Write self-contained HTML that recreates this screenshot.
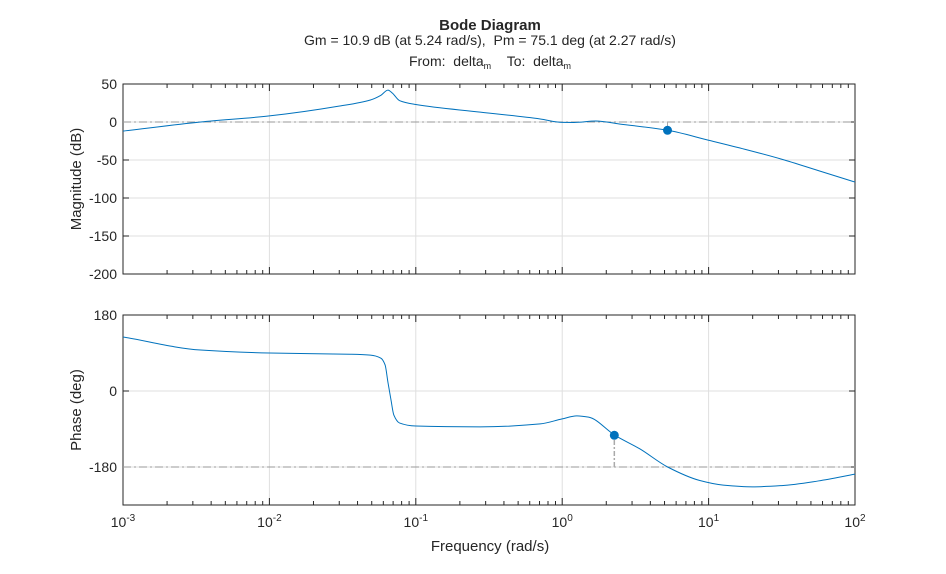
<!DOCTYPE html>
<html><head><meta charset="utf-8"><style>
body{margin:0;background:#fff;}
svg text{font-family:"Liberation Sans",sans-serif;fill:#262626;white-space:pre;}
</style></head><body>
<svg id="c" width="946" height="569" xmlns="http://www.w3.org/2000/svg">
<rect width="946" height="569" fill="#fff"/>
<text x="490" y="30" font-size="15" font-weight="bold" text-anchor="middle">Bode Diagram</text>
<text x="490" y="45" font-size="14" text-anchor="middle">Gm = 10.9 dB (at 5.24 rad/s),&#160;&#160;Pm = 75.1 deg (at 2.27 rad/s)</text>
<text x="490" y="66" font-size="14" text-anchor="middle">From:&#160;&#160;delta<tspan font-size="9" dy="3">m</tspan><tspan dy="-3">&#160;&#160;&#160;&#160;To:&#160;&#160;delta</tspan><tspan font-size="9" dy="3">m</tspan></text>
<g id="mag"></g>
<g id="ph"></g>
<text x="490" y="551" font-size="15" text-anchor="middle">Frequency (rad/s)</text>
<text transform="translate(81,179) rotate(-90)" font-size="15" text-anchor="middle">Magnitude (dB)</text>
<text transform="translate(81,410) rotate(-90)" font-size="15" text-anchor="middle">Phase (deg)</text>
</svg>
<script>
const decades=[-3,-2,-1,0,1,2];
const magTicks=[50,0,-50,-100,-150,-200];
const phTicks=[180,0,-180];
const magLogW=[-3,-2.47,-2,-1.52,-1.31,-1.24,-1.19,-1.16,-1.11,-1,-0.56,-0.15,0,0.08,0.23,0.39,0.72,1,1.25,1.5,1.75,2];
const magDb=[-12,0,8,21,29,35,42,38,28,23,13,4,-0.5,-0.6,1.3,-2.6,-10.9,-24,-36,-49,-64,-79];
const phLogW=[-3,-2.47,-2,-1.45,-1.31,-1.24,-1.21,-1.19,-1.17,-1.15,-1.11,-1,-0.56,-0.15,0,0.1,0.18,0.36,0.53,0.72,0.94,1.1,1.3,1.5,1.75,2];
const phDeg=[128,97,90,87,85,78,62,20,-20,-57,-76,-83,-85,-78,-66,-59,-62,-104.9,-137,-180,-212,-223,-227,-224,-213,-197];
const gm={w:Math.log10(5.24),db:-10.9};
const pm={w:Math.log10(2.27),deg:-104.9};
const NS='http://www.w3.org/2000/svg';
const X0=123,X1=855;
const xs=l=>X0+(l+3)/5*(X1-X0);
const ym=d=>122-d*0.76;
const yp=d=>391-d*76/180;
function el(p,t,a){const e=document.createElementNS(NS,t);for(const k in a)e.setAttribute(k,a[k]);p.appendChild(e);return e;}
function smooth(x,y){const n=x.length,dl=[],m=[];
 for(let i=0;i<n-1;i++)dl.push((y[i+1]-y[i])/(x[i+1]-x[i]));
 m[0]=dl[0];m[n-1]=dl[n-2];
 for(let i=1;i<n-1;i++){if(dl[i-1]*dl[i]<=0)m[i]=0;else{const h0=x[i]-x[i-1],h1=x[i+1]-x[i];const w1=2*h1+h0,w2=h1+2*h0;m[i]=(w1+w2)/(w1/dl[i-1]+w2/dl[i]);}}
 let d=`M${x[0]},${y[0]}`;
 for(let i=0;i<n-1;i++){const h=(x[i+1]-x[i])/3;d+=`C${x[i]+h},${y[i]+m[i]*h} ${x[i+1]-h},${y[i+1]-m[i+1]*h} ${x[i+1]},${y[i+1]}`;}
 return d;}
function axes(g,top,bot,ticks,yf,name){
 el(g,'rect',{x:X0,y:top,width:X1-X0,height:bot-top,fill:'#fff'});
 decades.forEach(d=>{const l=el(g,'line',{x1:xs(d),x2:xs(d),y1:top,y2:bot,stroke:'#dfdfdf'});});
 ticks.forEach(t=>{const y=yf(t);el(g,'line',{x1:X0,x2:X1,y1:y,y2:y,stroke:'#dfdfdf'});
  const tx=el(g,'text',{x:X0-6,y:y+5,'font-size':14,'text-anchor':'end'});tx.textContent=t;
  el(g,'line',{x1:X0,x2:X0+6,y1:y,y2:y,stroke:'#262626'});el(g,'line',{x1:X1,x2:X1-6,y1:y,y2:y,stroke:'#262626'});});
 for(let d=-3;d<2;d++)for(let k=1;k<10;k++){const x=xs(d+Math.log10(k));const L=k==1?7:4;
  el(g,'line',{x1:x,x2:x,y1:top,y2:top+L,stroke:'#262626'});el(g,'line',{x1:x,x2:x,y1:bot,y2:bot-L,stroke:'#262626'});}
 el(g,'rect',{x:X0,y:top,width:X1-X0,height:bot-top,fill:'none',stroke:'#262626'});
}
const mg=document.getElementById('mag'),pg=document.getElementById('ph');
axes(mg,84,274,magTicks,ym,'magnitude');
axes(pg,315,505,phTicks,yp,'phase');
let l=el(mg,'line',{x1:X0,x2:X1,y1:ym(0),y2:ym(0),stroke:'#999','stroke-dasharray':'8,3,2,3'});

l=el(pg,'line',{x1:X0,x2:X1,y1:yp(-180),y2:yp(-180),stroke:'#999','stroke-dasharray':'8,3,2,3'});

el(mg,'line',{x1:xs(gm.w),x2:xs(gm.w),y1:ym(0),y2:ym(gm.db),stroke:'#aaa','stroke-dasharray':'5,2'});
el(pg,'line',{x1:xs(pm.w),x2:xs(pm.w),y1:yp(-180),y2:yp(pm.deg),stroke:'#aaa','stroke-width':1.5,'stroke-dasharray':'5,2,2,2'});
let p=el(mg,'path',{d:smooth(magLogW.map(xs),magDb.map(ym)),fill:'none',stroke:'#0072bd','stroke-width':1});

p=el(pg,'path',{d:smooth(phLogW.map(xs),phDeg.map(yp)),fill:'none',stroke:'#0072bd','stroke-width':1});

let m=el(mg,'circle',{cx:xs(gm.w),cy:ym(gm.db),r:4.5,fill:'#0072bd'});

m=el(pg,'circle',{cx:xs(pm.w),cy:yp(pm.deg),r:4.5,fill:'#0072bd'});

decades.forEach(d=>{const t=el(pg,'text',{x:xs(d),y:527,'font-size':14,'text-anchor':'middle'});
 t.innerHTML='10<tspan font-size="10" dy="-6">'+d+'</tspan>';
 
 });
</script>
</body></html>
